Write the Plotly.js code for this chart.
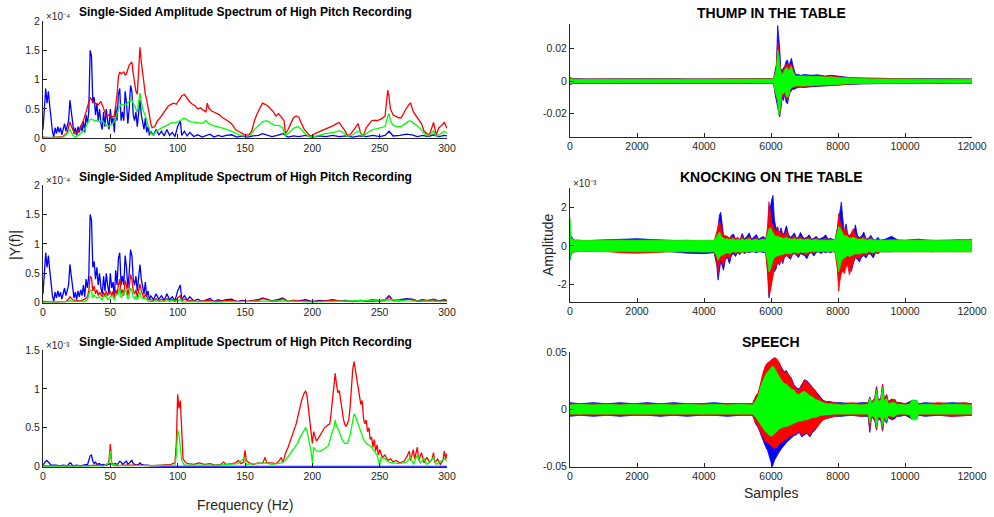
<!DOCTYPE html>
<html>
<head>
<meta charset="utf-8">
<script src="https://cdn.plot.ly/plotly-3.0.1.min.js"></script>
<style>html,body{margin:0;padding:0;background:#fff}#chart{width:994px;height:517px}</style>
</head>
<body>
<div id="chart"></div>
<script>
// ---------- Spectra (left column), [frequency Hz, amplitude in displayed units] ----------
// Row 1 & 2 amplitude units: x10^-4 ; Row 3 units: x10^-3
const SPEC_BLUE_HIGH = [[0,.15],[1,.55],[2,.85],[3,.6],[4,.8],[5,.55],[6,.3],[7,.12],[8,.02],[9,.18],[10,.08],[11,.2],[12,.1],[13,.18],[14,.06],[15,.15],[16,.25],[17,.12],[18,.2],[19,.3],[20,.65],[21,.45],[22,.2],[23,.08],[24,.18],[25,.05],[26,.2],[27,.1],[28,.22],[29,.12],[30,.3],[31,.1],[32,.4],[33,.25],[34,.45],[35,1.5],[36,1.4],[37,.6],[38,.7],[39,.4],[40,.6],[41,.3],[42,.5],[43,.25],[44,.15],[45,.45],[46,.2],[47,.5],[48,.3],[49,.15],[50,.5],[51,.25],[52,.35],[53,.1],[54,.55],[55,.3],[56,.75],[57,.85],[58,.3],[59,.45],[60,.3],[61,.8],[62,.6],[63,.25],[64,.5],[65,.9],[66,.8],[67,.4],[68,.3],[69,.45],[70,.2],[71,.4],[72,.65],[73,.4],[74,.3],[75,.15],[76,.35],[77,.1],[78,.2],[79,.05],[80,.12],[82,.05],[84,.15],[86,.06],[88,.12],[90,.04],[92,.15],[94,.05],[96,.1],[98,.03],[100,.2],[102,.3],[103,.05],[105,.12],[107,.04],[109,.1],[112,.03],[115,.06],[118,.02],[121,.05],[124,.07],[127,.02],[130,.05],[133,.03],[136,.05],[140,.06],[144,.02],[148,.04],[152,.02],[156,.04],[160,.05],[163,.08],[166,.06],[170,.03],[174,.05],[178,.08],[182,.02],[186,.04],[190,.03],[195,.05],[200,.02],[205,.04],[210,.03],[215,.05],[220,.03],[225,.04],[230,.02],[235,.04],[240,.03],[245,.05],[250,.03],[254,.05],[257,.12],[260,.04],[265,.05],[270,.07],[274,.06],[278,.03],[282,.05],[286,.03],[290,.06],[294,.03],[298,.05],[300,.04]];

const SPEC_RED_1 = [[0,.02],[5,.01],[10,.02],[15,.03],[18,.1],[20,.28],[22,.15],[24,.08],[26,.1],[28,.2],[30,.3],[32,.45],[34,.65],[35,.7],[37,.62],[39,.6],[41,.57],[43,.63],[45,.5],[47,.38],[49,.4],[51,.36],[53,.38],[55,.75],[56,1.05],[57,1.13],[58,1.1],[60,1.13],[61,1.08],[62,1.1],[64,1.25],[65,1.28],[66,1.3],[67,1.1],[68,.95],[69,.8],[70,.75],[71,1.3],[72,1.55],[73,1.3],[74,1.1],[75,.9],[76,.75],[77,.65],[78,.55],[79,.4],[80,.25],[81,.18],[83,.2],[85,.3],[87,.35],[89,.42],[91,.5],[93,.55],[95,.58],[97,.6],[99,.58],[101,.65],[103,.72],[105,.75],[107,.68],[109,.62],[111,.58],[113,.55],[115,.5],[117,.52],[119,.48],[121,.45],[122,.6],[123,.52],[125,.47],[127,.45],[129,.42],[131,.4],[133,.36],[135,.33],[137,.3],[139,.27],[141,.22],[143,.15],[145,.12],[147,.09],[149,.07],[151,.06],[153,.06],[155,.12],[157,.3],[159,.42],[161,.52],[163,.6],[165,.58],[167,.55],[169,.5],[171,.45],[173,.38],[175,.42],[177,.36],[179,.3],[180,.08],[182,.15],[184,.25],[186,.35],[188,.38],[190,.36],[192,.25],[194,.15],[196,.1],[198,.05],[200,.04],[202,.08],[204,.1],[206,.12],[208,.14],[210,.15],[212,.17],[214,.2],[216,.22],[218,.25],[220,.27],[222,.2],[224,.14],[226,.05],[228,.06],[230,.12],[232,.18],[234,.25],[236,.08],[238,.05],[240,.18],[242,.25],[244,.3],[246,.31],[248,.3],[250,.32],[252,.34],[254,.38],[255,.6],[256,.82],[257,.7],[258,.5],[260,.4],[262,.37],[264,.35],[266,.35],[268,.45],[270,.52],[272,.58],[273,.6],[275,.45],[277,.38],[279,.3],[281,.25],[283,.12],[285,.08],[287,.06],[289,.2],[290,.27],[292,.06],[294,.18],[296,.22],[298,.27],[300,.17]];

const SPEC_GREEN_1 = [[0,.01],[10,.01],[15,.02],[18,.08],[20,.15],[22,.06],[24,.02],[26,.05],[28,.08],[30,.12],[32,.2],[34,.3],[36,.33],[38,.3],[40,.3],[42,.28],[44,.3],[46,.25],[48,.2],[50,.22],[52,.25],[54,.35],[56,.5],[58,.58],[60,.57],[62,.58],[64,.63],[66,.65],[68,.55],[70,.45],[71,.6],[72,.77],[73,.62],[74,.5],[76,.38],[78,.22],[80,.08],[82,.06],[84,.12],[86,.15],[88,.18],[90,.2],[92,.22],[94,.25],[96,.27],[98,.26],[100,.28],[102,.3],[104,.34],[106,.33],[108,.3],[110,.28],[114,.27],[118,.25],[121,.3],[123,.25],[126,.22],[130,.2],[134,.17],[138,.14],[142,.1],[146,.06],[150,.04],[154,.05],[157,.15],[160,.22],[163,.28],[166,.3],[169,.26],[172,.22],[175,.22],[178,.18],[180,.04],[183,.1],[186,.17],[189,.2],[192,.15],[195,.07],[198,.03],[200,.02],[204,.05],[208,.07],[212,.09],[216,.1],[220,.13],[223,.1],[226,.03],[230,.06],[234,.12],[236,.1],[238,.03],[241,.1],[244,.14],[248,.16],[252,.18],[254,.2],[256,.38],[257,.42],[258,.3],[260,.22],[263,.2],[266,.2],[269,.25],[272,.3],[274,.28],[277,.22],[280,.17],[283,.08],[286,.04],[289,.1],[290,.13],[292,.03],[295,.08],[298,.12],[300,.08]];

const SPEC_RED_2 = [[0,.02],[10,.01],[17,.02],[19,.06],[20,.1],[22,.05],[24,.04],[28,.03],[31,.06],[33,.1],[34,.2],[35,.45],[36,.42],[37,.2],[38,.28],[39,.15],[40,.22],[41,.12],[42,.18],[44,.1],[45,.18],[46,.1],[47,.2],[48,.12],[50,.2],[51,.1],[52,.2],[53,.08],[54,.22],[55,.15],[56,.3],[57,.4],[58,.15],[59,.22],[60,.12],[61,.38],[62,.3],[63,.12],[64,.25],[65,.48],[66,.4],[67,.2],[68,.15],[69,.22],[70,.1],[71,.2],[72,.32],[73,.2],[74,.15],[75,.08],[76,.15],[78,.06],[80,.05],[82,.03],[84,.07],[86,.03],[88,.06],[90,.03],[92,.07],[94,.03],[96,.05],[98,.02],[100,.08],[102,.12],[103,.03],[105,.06],[108,.03],[110,.04],[115,.02],[120,.03],[124,.04],[128,.02],[135,.03],[140,.04],[145,.02],[150,.02],[155,.03],[160,.04],[163,.07],[166,.06],[170,.02],[175,.03],[178,.07],[182,.02],[186,.04],[190,.03],[195,.02],[200,.02],[210,.03],[215,.04],[220,.03],[230,.02],[236,.04],[240,.02],[250,.03],[254,.03],[257,.1],[260,.03],[265,.03],[270,.06],[274,.05],[280,.02],[285,.04],[290,.05],[295,.02],[300,.04]];

const SPEC_GREEN_2 = [[0,.01],[19,.02],[20,.04],[22,.02],[30,.02],[33,.05],[35,.22],[36,.2],[37,.08],[38,.13],[40,.08],[42,.1],[44,.05],[45,.1],[47,.12],[48,.05],[50,.1],[52,.12],[53,.04],[54,.12],[56,.15],[57,.25],[58,.08],[59,.12],[61,.22],[62,.15],[63,.06],[64,.12],[65,.25],[66,.2],[67,.1],[68,.06],[69,.12],[70,.05],[72,.18],[73,.1],[74,.07],[76,.08],[78,.03],[80,.02],[84,.03],[88,.02],[92,.03],[100,.03],[102,.05],[104,.01],[110,.02],[130,.01],[163,.03],[178,.03],[200,.01],[257,.05],[270,.03],[300,.02]];

const SPEC_BLUE_3 = [[0,.02],[1,.05],[2,.07],[3,.08],[4,.06],[5,.04],[6,.02],[8,.02],[10,.02],[12,.01],[15,.02],[18,.01],[20,.05],[21,.04],[22,.01],[25,.02],[28,.01],[30,.02],[32,.03],[33,.02],[34,.08],[35,.14],[36,.15],[37,.07],[38,.04],[39,.06],[40,.03],[42,.04],[43,.02],[45,.03],[47,.02],[50,.04],[52,.03],[54,.04],[55,.02],[57,.07],[58,.06],[59,.03],[61,.06],[62,.07],[63,.03],[65,.06],[66,.08],[67,.04],[69,.02],[71,.03],[72,.05],[73,.03],[75,.02],[78,.02],[80,.01],[90,.005],[300,.005]];

const SPEC_RED_3 = [[0,.01],[10,.01],[20,.015],[30,.01],[40,.02],[45,.01],[48,.03],[49,.08],[50,.29],[51,.05],[52,.02],[55,.01],[60,.02],[70,.02],[80,.01],[90,.02],[95,.03],[98,.05],[99,.3],[100,.93],[101,.75],[102,.85],[103,.35],[104,.1],[106,.05],[108,.04],[112,.03],[116,.05],[120,.03],[124,.04],[128,.02],[132,.03],[134,.06],[136,.03],[140,.04],[143,.05],[145,.08],[147,.04],[149,.06],[150,.21],[151,.08],[153,.05],[156,.03],[160,.05],[163,.04],[165,.12],[166,.05],[170,.05],[173,.04],[175,.07],[177,.12],[178,.05],[179,.1],[180,.17],[182,.25],[184,.35],[186,.45],[188,.55],[190,.7],[192,.85],[194,.95],[195,.97],[196,.92],[197,.75],[198,.55],[199,.4],[200,.3],[201,.45],[203,.33],[205,.38],[207,.45],[209,.5],[211,.53],[213,.55],[214,.7],[215,.9],[216,1.05],[217,1.2],[218,1.05],[219,.95],[220,.98],[221,.85],[222,.75],[223,.62],[224,.55],[225,.52],[226,.55],[227,.6],[228,.75],[229,1.0],[230,1.25],[231,1.35],[232,1.25],[233,1.15],[234,1.0],[235,.95],[236,.8],[237,.85],[238,.62],[239,.55],[240,.6],[241,.45],[242,.5],[243,.35],[244,.38],[245,.25],[246,.35],[247,.2],[248,.28],[249,.15],[250,.22],[252,.12],[254,.15],[256,.08],[258,.1],[260,.06],[262,.08],[265,.05],[268,.07],[270,.12],[272,.2],[273,.08],[275,.22],[276,.1],[278,.25],[279,.08],[281,.18],[283,.05],[285,.12],[287,.06],[289,.1],[290,.18],[291,.05],[293,.1],[295,.03],[297,.08],[298,.2],[299,.1],[300,.17]];

const SPEC_GREEN_3 = [[0,.005],[45,.01],[49,.05],[50,.2],[51,.03],[60,.01],[98,.02],[99,.15],[100,.47],[101,.4],[102,.25],[103,.08],[105,.02],[130,.02],[145,.04],[150,.12],[151,.03],[165,.05],[170,.03],[177,.05],[180,.08],[183,.15],[186,.22],[189,.3],[191,.38],[193,.45],[195,.5],[196,.47],[197,.38],[198,.3],[199,.2],[200,.05],[201,.25],[203,.2],[206,.2],[209,.23],[212,.27],[214,.4],[216,.5],[217,.6],[218,.52],[220,.45],[222,.35],[224,.3],[226,.3],[228,.4],[230,.62],[231,.68],[232,.65],[234,.55],[236,.45],[238,.35],[240,.3],[242,.27],[244,.25],[246,.2],[248,.15],[250,.02],[251,.12],[254,.1],[257,.06],[260,.05],[265,.04],[270,.06],[273,.12],[275,.03],[278,.15],[280,.05],[283,.1],[285,.03],[290,.12],[292,.03],[295,.06],[298,.1],[300,.08]];

// ---------- Waveforms (right column): [sample, upper envelope, lower envelope] ----------
const THUMP_BLUE = [[0,.002,-.0022],[100,.0015,-.0014],[500,.0013,-.0013],[1000,.0014,-.0014],[1500,.0013,-.0012],[2000,.0015,-.0014],[2500,.0013,-.0013],[3000,.0014,-.0014],[3500,.0013,-.0013],[4000,.0015,-.0015],[4500,.0013,-.0013],[5000,.0014,-.0014],[5500,.0013,-.0013],[6000,.0015,-.0014],[6080,.0015,-.0015],[6120,.006,-.008],[6160,.01,-.012],[6200,.034,-.015],[6230,.028,-.02],[6260,.02,-.022],[6290,.008,-.018],[6330,.006,-.01],[6370,.008,-.012],[6410,.009,-.008],[6450,.012,-.013],[6490,.013,-.014],[6530,.009,-.01],[6570,.011,-.007],[6610,.014,-.006],[6650,.01,-.005],[6690,.006,-.005],[6730,.004,-.0045],[6800,.004,-.004],[6900,.0035,-.0038],[7000,.004,-.004],[7200,.0035,-.0035],[7400,.0038,-.0032],[7600,.003,-.003],[7800,.0035,-.003],[8000,.0028,-.0025],[8200,.0025,-.0022],[8400,.002,-.002],[8700,.0018,-.0018],[9000,.0016,-.0016],[9500,.0015,-.0014],[10000,.0014,-.0014],[10500,.0015,-.0013],[11000,.0013,-.0014],[11500,.0014,-.0013],[12000,.0013,-.0013]];
const THUMP_RED = [[0,.0018,-.002],[100,.0013,-.0013],[500,.0012,-.0012],[1000,.0013,-.0013],[1500,.0012,-.0012],[2000,.0013,-.0013],[2500,.0012,-.0012],[3000,.0013,-.0013],[3500,.0012,-.0012],[4000,.0013,-.0013],[4500,.0012,-.0012],[5000,.0013,-.0013],[5500,.0012,-.0012],[6000,.0013,-.0013],[6080,.0014,-.0014],[6120,.005,-.007],[6160,.009,-.01],[6200,.024,-.013],[6230,.02,-.02],[6260,.012,-.021],[6290,.007,-.016],[6330,.005,-.009],[6370,.007,-.01],[6410,.008,-.007],[6450,.01,-.011],[6490,.011,-.012],[6530,.009,-.009],[6570,.01,-.006],[6610,.01,-.005],[6650,.008,-.004],[6690,.005,-.004],[6730,.0035,-.0038],[6800,.0035,-.0035],[6900,.003,-.0035],[7000,.0035,-.0035],[7200,.003,-.003],[7400,.0032,-.003],[7600,.0028,-.0028],[7800,.003,-.0028],[8000,.0025,-.0024],[8200,.0022,-.002],[8400,.0018,-.0018],[8700,.0016,-.0016],[9000,.0015,-.0015],[9500,.0014,-.0013],[10000,.0013,-.0013],[10500,.0013,-.0012],[11000,.0012,-.0013],[11500,.0013,-.0012],[12000,.0012,-.0012]];
const THUMP_GREEN = [[0,.0015,-.0015],[100,.0011,-.0011],[500,.001,-.001],[1000,.0011,-.0011],[1500,.001,-.001],[2000,.0011,-.0011],[2500,.001,-.001],[3000,.0011,-.0011],[3500,.001,-.001],[4000,.0011,-.0012],[4500,.001,-.001],[5000,.0011,-.0011],[5500,.001,-.001],[6000,.0011,-.0011],[6080,.0012,-.0012],[6120,.004,-.006],[6160,.007,-.009],[6200,.019,-.012],[6230,.016,-.021],[6260,.01,-.02],[6290,.006,-.014],[6330,.004,-.007],[6370,.005,-.008],[6410,.007,-.006],[6450,.008,-.009],[6490,.008,-.01],[6530,.006,-.009],[6570,.008,-.005],[6610,.009,-.004],[6650,.006,-.0035],[6690,.004,-.0032],[6730,.003,-.003],[6800,.003,-.003],[6900,.0028,-.0028],[7000,.003,-.003],[7200,.0027,-.0027],[7400,.0028,-.0026],[7600,.0024,-.0024],[7800,.0025,-.0023],[8000,.002,-.002],[8200,.0018,-.0018],[8400,.0015,-.0015],[8700,.0014,-.0014],[9000,.0013,-.0013],[9500,.0012,-.0012],[10000,.0012,-.0011],[10500,.0012,-.0012],[11000,.0011,-.0011],[11500,.0012,-.0012],[12000,.0011,-.0011]];

// Knocking: amplitude units x10^-3
const KNOCK_BLUE = [[0,.6,-.75],[40,.5,-.4],[120,.3,-.3],[500,.28,-.28],[1000,.3,-.25],[1500,.35,-.2],[2000,.38,-.22],[2500,.33,-.25],[3000,.3,-.3],[3500,.25,-.38],[4000,.22,-.4],[4300,.25,-.35],[4380,.6,-1.0],[4420,1.0,-1.78],[4460,1.6,-1.2],[4500,1.75,-.8],[4540,1.1,-1.0],[4580,.6,-1.26],[4640,.45,-.7],[4700,.5,-.6],[4760,.4,-.92],[4820,.55,-.5],[4880,.62,-.4],[4940,.35,-.55],[5000,.45,-.35],[5070,.3,-.45],[5140,.65,-.3],[5210,.35,-.4],[5280,.5,-.3],[5350,.68,-.35],[5420,.35,-.3],[5490,.45,-.3],[5560,.6,-.35],[5630,.35,-.3],[5700,.45,-.3],[5770,.5,-.35],[5840,.35,-.3],[5900,.8,-1.2],[5940,2.1,-2.7],[5980,2.0,-2.2],[6020,2.4,-1.5],[6060,2.63,-1.1],[6100,1.4,-1.35],[6150,.9,-1.2],[6200,1.0,-.8],[6250,.6,-1.0],[6300,.95,-.7],[6350,.6,-.92],[6400,.7,-.6],[6460,1.05,-.5],[6520,.6,-.6],[6580,.45,-.7],[6640,.55,-.45],[6700,.68,-.4],[6760,.4,-.5],[6820,.45,-.6],[6880,.7,-.4],[6940,.5,-.45],[7000,.4,-.5],[7070,.45,-.66],[7140,.58,-.4],[7210,.35,-.35],[7280,.4,-.52],[7350,.5,-.35],[7420,.35,-.3],[7490,.4,-.4],[7560,.45,-.3],[7630,.58,-.35],[7700,.35,-.3],[7770,.4,-.35],[7840,.35,-.3],[7910,.3,-.3],[7980,.9,-.8],[8020,1.4,-1.6],[8060,1.9,-1.2],[8100,2.28,-1.0],[8140,1.5,-1.1],[8190,.7,-1.26],[8240,1.15,-.8],[8290,.6,-.7],[8340,.55,-1.0],[8400,.6,-1.32],[8460,.5,-.9],[8520,1.1,-.6],[8580,.55,-.7],[8640,.45,-.83],[8700,.5,-.6],[8770,.72,-.5],[8840,.35,-.62],[8910,.4,-.4],[8980,.55,-.45],[9050,.35,-.62],[9120,.3,-.35],[9190,.45,-.4],[9260,.3,-.3],[9400,.35,-.3],[9600,.5,-.3],[9800,.3,-.25],[10000,.3,-.28],[10400,.35,-.25],[10800,.28,-.3],[11200,.3,-.25],[11600,.32,-.28],[12000,.28,-.25]];
const KNOCK_RED = [[0,.5,-.6],[40,.35,-.35],[120,.3,-.3],[500,.28,-.3],[1000,.3,-.28],[1500,.3,-.35],[2000,.32,-.38],[2500,.3,-.35],[3000,.28,-.3],[3500,.3,-.3],[4000,.25,-.32],[4300,.28,-.3],[4380,.7,-.8],[4420,1.0,-1.41],[4460,1.3,-1.0],[4500,1.1,-.7],[4540,.7,-.9],[4580,.5,-1.0],[4640,.55,-.6],[4700,.45,-.5],[4760,.4,-.7],[4820,.5,-.4],[4880,.45,-.35],[4940,.35,-.45],[5000,.4,-.3],[5070,.35,-.4],[5140,.5,-.3],[5210,.3,-.35],[5280,.4,-.3],[5350,.5,-.3],[5420,.3,-.3],[5490,.35,-.28],[5560,.45,-.3],[5630,.3,-.3],[5700,.35,-.28],[5770,.4,-.3],[5840,.3,-.3],[5900,1.0,-1.5],[5940,2.3,-2.6],[5980,1.8,-2.36],[6020,1.2,-2.0],[6060,1.1,-1.6],[6100,.9,-1.2],[6150,.7,-1.0],[6200,.9,-.9],[6250,.75,-.95],[6300,.7,-.75],[6350,.6,-.8],[6400,.55,-.55],[6460,.8,-.5],[6520,.5,-.55],[6580,.4,-.6],[6640,.45,-.4],[6700,.55,-.38],[6760,.35,-.45],[6820,.4,-.5],[6880,.5,-.35],[6940,.4,-.4],[7000,.35,-.45],[7070,.4,-.5],[7140,.45,-.35],[7210,.3,-.32],[7280,.35,-.4],[7350,.4,-.32],[7420,.3,-.3],[7490,.35,-.32],[7560,.35,-.3],[7630,.4,-.3],[7700,.3,-.3],[7770,.35,-.3],[7840,.3,-.3],[7910,.3,-.3],[7980,.9,-1.2],[8020,1.69,-2.36],[8060,1.3,-1.8],[8100,1.2,-1.44],[8140,.9,-1.3],[8190,.8,-1.44],[8240,.9,-1.1],[8290,.6,-1.0],[8340,.5,-1.5],[8400,.7,-1.1],[8460,.9,-.8],[8520,.6,-.6],[8580,.45,-.6],[8640,.4,-.7],[8700,.45,-.5],[8770,.5,-.45],[8840,.35,-.5],[8910,.35,-.35],[8980,.45,-.4],[9050,.3,-.45],[9120,.3,-.3],[9190,.35,-.35],[9260,.3,-.3],[9400,.3,-.3],[9600,.35,-.28],[9800,.3,-.28],[10000,.28,-.3],[10400,.3,-.28],[10800,.3,-.3],[11200,.25,-.3],[11600,.3,-.28],[12000,.35,-.3]];
const KNOCK_GREEN = [[0,1.5,-.7],[40,.4,-.35],[120,.3,-.3],[500,.28,-.28],[1000,.3,-.3],[1500,.3,-.28],[2000,.32,-.3],[2500,.3,-.3],[3000,.3,-.28],[3500,.28,-.3],[4000,.3,-.32],[4300,.3,-.3],[4380,.5,-.5],[4420,.6,-.75],[4460,.73,-.6],[4500,.6,-.5],[4540,.45,-.5],[4580,.4,-.45],[4640,.35,-.38],[4700,.38,-.35],[4760,.33,-.4],[4820,.35,-.33],[4880,.38,-.3],[4940,.3,-.33],[5000,.35,-.3],[5070,.3,-.32],[5140,.38,-.3],[5210,.3,-.3],[5280,.35,-.3],[5350,.38,-.3],[5420,.3,-.28],[5490,.32,-.3],[5560,.35,-.3],[5630,.3,-.28],[5700,.32,-.3],[5770,.35,-.3],[5840,.3,-.28],[5900,.6,-.8],[5940,.9,-1.35],[5980,.95,-1.2],[6020,.85,-.9],[6060,.7,-.75],[6100,.55,-.6],[6150,.5,-.55],[6200,.5,-.5],[6250,.45,-.5],[6300,.45,-.45],[6350,.4,-.45],[6400,.4,-.4],[6460,.45,-.4],[6520,.38,-.38],[6580,.35,-.4],[6640,.35,-.35],[6700,.4,-.33],[6760,.33,-.35],[6820,.35,-.38],[6880,.38,-.32],[6940,.33,-.33],[7000,.32,-.35],[7070,.35,-.35],[7140,.35,-.3],[7210,.3,-.3],[7280,.32,-.32],[7350,.35,-.3],[7420,.3,-.3],[7490,.3,-.3],[7560,.32,-.28],[7630,.33,-.3],[7700,.3,-.3],[7770,.32,-.28],[7840,.3,-.3],[7910,.3,-.3],[7980,.7,-.8],[8020,1.0,-1.35],[8060,.95,-1.1],[8100,.8,-.8],[8140,.6,-.7],[8190,.5,-.6],[8240,.55,-.55],[8290,.45,-.5],[8340,.4,-.55],[8400,.42,-.5],[8460,.45,-.45],[8520,.4,-.4],[8580,.35,-.4],[8640,.35,-.42],[8700,.35,-.38],[8770,.38,-.35],[8840,.3,-.38],[8910,.32,-.3],[8980,.35,-.32],[9050,.3,-.35],[9120,.3,-.3],[9190,.32,-.3],[9260,.3,-.28],[9400,.3,-.3],[9600,.32,-.28],[9800,.3,-.3],[10000,.3,-.3],[10400,.32,-.28],[10800,.3,-.3],[11200,.3,-.3],[11600,.32,-.28],[12000,.3,-.3]];

const SPEECH_BLUE = [[0,.006,-.006],[300,.005,-.005],[700,.006,-.006],[1100,.005,-.005],[1500,.006,-.006],[1900,.005,-.005],[2300,.006,-.005],[2700,.005,-.006],[3100,.006,-.005],[3500,.005,-.006],[3900,.005,-.005],[4300,.006,-.005],[4700,.005,-.006],[5100,.005,-.005],[5450,.005,-.005],[5550,.012,-.013],[5620,.014,-.016],[5690,.022,-.022],[5760,.03,-.027],[5830,.037,-.032],[5900,.04,-.036],[5970,.042,-.042],[6040,.044,-.05],[6110,.045,-.044],[6180,.043,-.04],[6250,.04,-.037],[6320,.036,-.034],[6390,.033,-.031],[6460,.034,-.029],[6530,.03,-.027],[6600,.028,-.025],[6680,.022,-.023],[6760,.019,-.022],[6840,.018,-.02],[6920,.022,-.024],[7000,.026,-.022],[7080,.025,-.021],[7160,.022,-.024],[7240,.02,-.02],[7320,.017,-.018],[7400,.013,-.014],[7480,.01,-.011],[7560,.008,-.009],[7640,.007,-.008],[7750,.007,-.007],[7900,.006,-.006],[8100,.006,-.006],[8400,.005,-.005],[8700,.006,-.006],[8900,.006,-.006],[8950,.011,-.02],[9000,.006,-.006],[9100,.01,-.01],[9150,.02,-.018],[9200,.008,-.008],[9280,.01,-.01],[9330,.022,-.019],[9380,.009,-.008],[9450,.013,-.012],[9500,.007,-.007],[9600,.009,-.009],[9700,.008,-.008],[9750,.006,-.006],[9850,.006,-.006],[10000,.005,-.005],[10150,.007,-.007],[10200,.008,-.008],[10350,.008,-.008],[10400,.005,-.005],[10600,.006,-.006],[11000,.005,-.005],[11400,.006,-.006],[11800,.005,-.005],[12000,.005,-.005]];
const SPEECH_RED = [[0,.005,-.005],[300,.005,-.005],[700,.005,-.005],[1100,.005,-.005],[1500,.005,-.005],[1900,.005,-.005],[2300,.005,-.005],[2700,.005,-.005],[3100,.005,-.005],[3500,.005,-.005],[3900,.005,-.005],[4300,.005,-.005],[4700,.005,-.005],[5100,.005,-.005],[5450,.005,-.005],[5550,.012,-.013],[5620,.015,-.015],[5690,.023,-.02],[5760,.032,-.024],[5830,.038,-.028],[5900,.041,-.029],[5970,.042,-.031],[6040,.044,-.033],[6110,.0455,-.034],[6180,.044,-.033],[6250,.041,-.03],[6320,.035,-.029],[6390,.032,-.027],[6460,.033,-.026],[6530,.03,-.024],[6600,.027,-.023],[6680,.021,-.022],[6760,.018,-.021],[6840,.017,-.019],[6920,.021,-.023],[7000,.026,-.021],[7080,.024,-.02],[7160,.022,-.023],[7240,.019,-.019],[7320,.017,-.017],[7400,.012,-.015],[7480,.01,-.011],[7560,.007,-.009],[7640,.007,-.008],[7750,.006,-.007],[7900,.006,-.006],[8100,.005,-.005],[8400,.006,-.005],[8700,.005,-.006],[8900,.006,-.005],[8950,.01,-.018],[9000,.006,-.006],[9100,.01,-.009],[9150,.02,-.017],[9200,.008,-.007],[9280,.01,-.009],[9330,.022,-.018],[9380,.009,-.007],[9450,.013,-.011],[9500,.007,-.006],[9600,.008,-.008],[9700,.009,-.007],[9750,.006,-.006],[9850,.006,-.005],[10000,.005,-.005],[10150,.006,-.006],[10200,.007,-.007],[10350,.007,-.007],[10400,.005,-.005],[10600,.005,-.005],[11000,.006,-.005],[11400,.005,-.006],[11800,.006,-.005],[12000,.005,-.005]];
const SPEECH_GREEN = [[0,.004,-.004],[300,.0045,-.004],[700,.004,-.0045],[1100,.0045,-.004],[1500,.004,-.004],[1900,.0045,-.0045],[2300,.004,-.004],[2700,.0045,-.004],[3100,.004,-.0045],[3500,.0045,-.004],[3900,.004,-.004],[4300,.0045,-.0045],[4700,.004,-.004],[5100,.0045,-.004],[5450,.004,-.004],[5550,.008,-.007],[5620,.012,-.01],[5690,.02,-.014],[5760,.025,-.017],[5830,.03,-.019],[5900,.033,-.021],[5970,.035,-.023],[6040,.038,-.023],[6110,.036,-.021],[6180,.032,-.019],[6250,.028,-.017],[6320,.025,-.016],[6390,.023,-.015],[6460,.022,-.015],[6530,.02,-.014],[6600,.018,-.013],[6680,.017,-.012],[6760,.014,-.011],[6840,.013,-.01],[6920,.015,-.01],[7000,.016,-.009],[7080,.014,-.009],[7160,.012,-.008],[7240,.011,-.007],[7320,.009,-.007],[7400,.008,-.006],[7480,.007,-.005],[7560,.006,-.005],[7640,.005,-.0045],[7750,.005,-.0045],[7900,.0045,-.004],[8100,.004,-.004],[8400,.0045,-.004],[8700,.004,-.0045],[8900,.0045,-.004],[8950,.01,-.012],[9000,.005,-.005],[9100,.008,-.007],[9150,.017,-.015],[9200,.007,-.006],[9280,.008,-.007],[9330,.019,-.015],[9380,.007,-.006],[9450,.01,-.01],[9500,.005,-.005],[9600,.006,-.006],[9700,.006,-.006],[9750,.0045,-.0045],[9850,.0045,-.004],[10000,.004,-.004],[10150,.0045,-.0045],[10200,.008,-.009],[10350,.008,-.009],[10400,.004,-.004],[10600,.0045,-.004],[11000,.004,-.0045],[11400,.0045,-.004],[11800,.004,-.004],[12000,.004,-.004]];

// ---------- labels ----------
const SPEC_TITLE = 'Single-Sided Amplitude Spectrum of High Pitch Recording';
const WAVE_TITLES = ['THUMP IN THE TABLE', 'KNOCKING ON THE TABLE', 'SPEECH'];
const FREQ_TICKS = [0, 50, 100, 150, 200, 250, 300];
const SAMPLE_TICKS = [0, 2000, 4000, 6000, 8000, 10000, 12000];

const BLUE = '#0000ff', RED = '#ff0000', GREEN = '#00ff00';
const AX = '#262626';
const FONT = 'Liberation Sans, Arial, Helvetica, sans-serif';
const W = 994, H = 517;

function specLine(pts, color, xa, ya) {
  return {type:'scatter', mode:'lines', x: pts.map(p=>p[0]), y: pts.map(p=>p[1]),
    line:{color:color, width:1.3}, xaxis:xa, yaxis:ya, hoverinfo:'skip', showlegend:false};
}
function band(pts, color, xa, ya) {
  const xs = pts.map(p=>p[0]);
  return [
    {type:'scatter', mode:'lines', x: xs, y: pts.map(p=>p[1]), line:{color:color, width:0.8},
      xaxis:xa, yaxis:ya, hoverinfo:'skip', showlegend:false},
    {type:'scatter', mode:'lines', x: xs, y: pts.map(p=>p[2]), line:{color:color, width:0.8},
      fill:'tonexty', fillcolor:color, xaxis:xa, yaxis:ya, hoverinfo:'skip', showlegend:false}
  ];
}

const traces = [
  specLine(SPEC_BLUE_HIGH, BLUE, 'x', 'y'),
  specLine(SPEC_RED_1, RED, 'x', 'y'),
  specLine(SPEC_GREEN_1, GREEN, 'x', 'y'),
  ...band(THUMP_BLUE, BLUE, 'x2', 'y2'),
  ...band(THUMP_RED, RED, 'x2', 'y2'),
  ...band(THUMP_GREEN, GREEN, 'x2', 'y2'),
  specLine(SPEC_BLUE_HIGH, BLUE, 'x3', 'y3'),
  specLine(SPEC_RED_2, RED, 'x3', 'y3'),
  specLine(SPEC_GREEN_2, GREEN, 'x3', 'y3'),
  ...band(KNOCK_BLUE, BLUE, 'x4', 'y4'),
  ...band(KNOCK_RED, RED, 'x4', 'y4'),
  ...band(KNOCK_GREEN, GREEN, 'x4', 'y4'),
  specLine(SPEC_BLUE_3, BLUE, 'x5', 'y5'),
  specLine(SPEC_RED_3, RED, 'x5', 'y5'),
  specLine(SPEC_GREEN_3, GREEN, 'x5', 'y5'),
  ...band(SPEECH_BLUE, BLUE, 'x6', 'y6'),
  ...band(SPEECH_RED, RED, 'x6', 'y6'),
  ...band(SPEECH_GREEN, GREEN, 'x6', 'y6')
];

const tickFont = {family:FONT, size:10.5, color:AX};
function px2x(p){ return p / W; }
function px2y(p){ return 1 - p / H; }
function baseAxis(extra){
  return Object.assign({showline:true, linecolor:AX, linewidth:1, ticks:'inside', ticklen:4,
    tickcolor:AX, tickwidth:1, showgrid:false, zeroline:false, tickfont:tickFont, fixedrange:true,
    mirror:false, automargin:false}, extra);
}
function xAx(left, right, anchor, range, ticks){
  return baseAxis({domain:[px2x(left), px2x(right)], anchor:anchor, range:range,
    tickmode:'array', tickvals:ticks, ticktext:ticks.map(String)});
}
function yAx(top, bottom, anchor, range, vals, texts){
  return baseAxis({domain:[px2y(bottom), px2y(top)], anchor:anchor, range:range,
    tickmode:'array', tickvals:vals, ticktext:texts});
}

const LX = [43, 447], RX = [570, 972];
const layout = {
  width:W, height:H, margin:{l:0, r:0, t:0, b:0}, paper_bgcolor:'#fff', plot_bgcolor:'#fff',
  showlegend:false,
  xaxis:  xAx(LX[0], LX[1], 'y',  [0, 300], FREQ_TICKS),
  yaxis:  yAx(21, 138.3, 'x', [0, 2], [0, .5, 1, 1.5, 2], ['0','0.5','1','1.5','2']),
  xaxis2: xAx(RX[0], RX[1], 'y2', [0, 12000], SAMPLE_TICKS),
  yaxis2: yAx(24, 136.7, 'x2', [-0.0341, 0.0349], [-0.02, 0, 0.02], ['-0.02','0','0.02']),
  xaxis3: xAx(LX[0], LX[1], 'y3', [0, 300], FREQ_TICKS),
  yaxis3: yAx(185, 302.7, 'x3', [0, 2], [0, .5, 1, 1.5, 2], ['0','0.5','1','1.5','2']),
  xaxis4: xAx(RX[0], RX[1], 'y4', [0, 12000], SAMPLE_TICKS),
  yaxis4: yAx(188.3, 301.7, 'x4', [-2.9, 3.0], [-2, 0, 2], ['-2','0','2']),
  xaxis5: xAx(LX[0], LX[1], 'y5', [0, 300], FREQ_TICKS),
  yaxis5: yAx(350, 466.7, 'x5', [0, 1.5], [0, .5, 1, 1.5], ['0','0.5','1','1.5']),
  xaxis6: xAx(RX[0], RX[1], 'y6', [0, 12000], SAMPLE_TICKS),
  yaxis6: yAx(352.3, 466.7, 'x6', [-0.05, 0.05], [-0.05, 0, 0.05], ['-0.05','0','0.05']),
  annotations: []
};

function note(text, xpx, ypx, opts){
  layout.annotations.push(Object.assign({text:text, x:px2x(xpx), y:px2y(ypx), xref:'paper', yref:'paper',
    showarrow:false, xanchor:'center', yanchor:'middle', font:{family:FONT, size:12, color:'#000'}}, opts||{}));
}
// Titles
[12, 176.5, 342].forEach(y => note(SPEC_TITLE, 245, y, {font:{family:FONT, size:12, color:'#000', weight:'bold'}}));
[12.5, 177, 341.5].forEach((y, i) => note(WAVE_TITLES[i], 771, y, {font:{family:FONT, size:14, color:'#000', weight:'bold'}}));
// exponent labels
const expFont = {family:FONT, size:10, color:AX};
note('×10⁻⁴', 44, 16, {xanchor:'left', font:expFont});
note('×10⁻⁴', 44, 180, {xanchor:'left', font:expFont});
note('×10⁻³', 44, 345, {xanchor:'left', font:expFont});
note('×10⁻³', 571, 183, {xanchor:'left', font:expFont});
// axis labels
const labFont = {family:FONT, size:14, color:AX};
note('|Y(f)|', 15, 245, {textangle:-90, font:labFont});
note('Amplitude', 548, 245, {textangle:-90, font:labFont});
note('Frequency (Hz)', 245, 505, {font:labFont});
note('Samples', 771, 493, {font:labFont});

Plotly.newPlot('chart', traces, layout, {staticPlot:true, displayModeBar:false});
</script>
</body>
</html>
